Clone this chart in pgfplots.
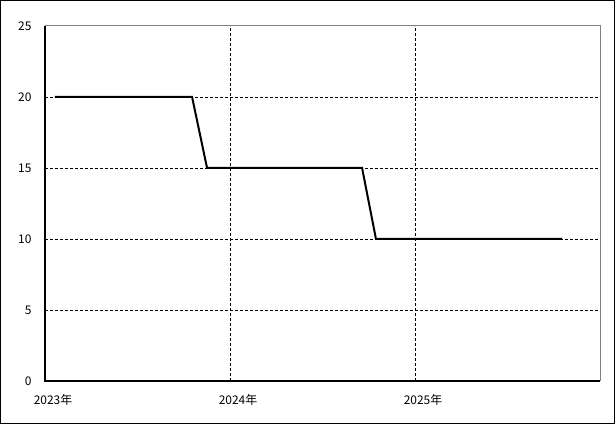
\documentclass[border=0pt]{standalone}
\usepackage{fontspec}
\setmainfont{Noto Sans CJK JP}
\usepackage{pgfplots}
\pgfplotsset{compat=1.18}
\begin{document}
\begin{tikzpicture}
\useasboundingbox (-45bp,-43bp) rectangle (570bp,381bp);
\begin{axis}[
  at={(0,0)}, anchor=south west,
  scale only axis, width=555bp, height=355bp,
  xmin=2023, xmax=2026, ymin=0, ymax=25,
  xtick={2023,2024,2025}, xticklabels={2023年,2024年,2025年},
  ytick={0,5,10,15,20,25},
  extra y ticks={5,10,15,20}, extra y tick labels={},
  extra y tick style={ymajorgrids=true},
  major tick length=0pt,
  axis line style={draw=none},
  xmajorgrids, ymajorgrids=false,
  grid style={black, line width=0.8bp, dash pattern=on 3bp off 2bp},
  /pgf/number format/assume math mode=true,
  tick label style={font=\fontsize{12}{14}\selectfont},
  xticklabel style={anchor=north, xshift=8bp, yshift=-10bp},
  yticklabel style={anchor=east, xshift=-10bp},
  clip=false,
]
\addplot[black, line width=2bp] coordinates {
  (2023.054,20) (2023.795,20) (2023.876,15) (2024.714,15) (2024.789,10) (2025.795,10)
};
\draw[gray, line width=1bp] (rel axis cs:0,1) -- (rel axis cs:1,1) -- (rel axis cs:1,0);
\draw[black, line width=1.2bp] (rel axis cs:0,1) -- (rel axis cs:0,0) -- (rel axis cs:1,0);
\end{axis}
\draw[black, line width=1bp] (-44.5bp,-42.5bp) rectangle (569.5bp,380.5bp);
\end{tikzpicture}
\end{document}
